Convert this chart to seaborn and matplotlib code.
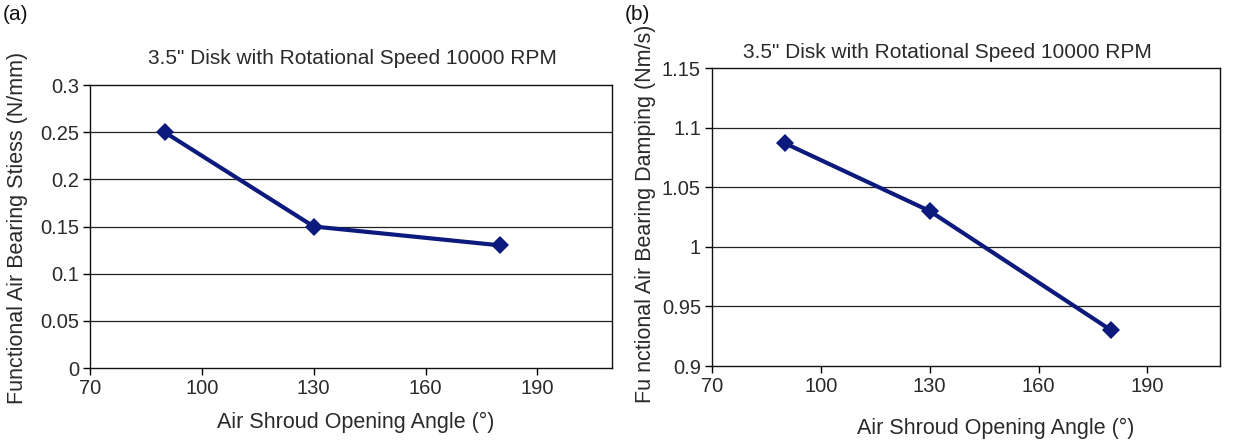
import matplotlib
matplotlib.use("Agg")
import matplotlib.pyplot as plt
import seaborn as sns
import pandas as pd

sns.set_theme(style="white")
plt.rcParams["font.family"] = ["Liberation Sans", "DejaVu Sans"]

# Opening angles (degrees) and measured bearing properties
angles = [90, 130, 180]
stiffness = [0.25, 0.15, 0.13]      # N/mm
damping = [1.087, 1.03, 0.93]       # Nm/s

x_ticks = [70, 100, 130, 160, 190]
stiff_ticks = [0, 0.05, 0.1, 0.15, 0.2, 0.25, 0.3]
stiff_labels = ["0", "0.05", "0.1", "0.15", "0.2", "0.25", "0.3"]
damp_ticks = [0.9, 0.95, 1.0, 1.05, 1.1, 1.15]
damp_labels = ["0.9", "0.95", "1", "1.05", "1.1", "1.15"]

title = '3.5" Disk with Rotational Speed 10000 RPM'
xlabel = "Air Shroud Opening Angle (°)"

line_color = "#0b1a7c"
text_color = "#2a2a2a"
W, H = 1244, 440
fig = plt.figure(figsize=(W / 100, H / 100), dpi=100)


def frac(x0, y0, x1, y1):
    return [x0 / W, 1 - y1 / H, (x1 - x0) / W, (y1 - y0) / H]


ax_a = fig.add_axes(frac(90, 85, 612, 368))
ax_b = fig.add_axes(frac(712, 68, 1220, 366))

df_a = pd.DataFrame({"angle": angles, "value": stiffness})
df_b = pd.DataFrame({"angle": angles, "value": damping})

for ax, df, ticks, labels, ylim in [
    (ax_a, df_a, stiff_ticks, stiff_labels, (0, 0.3)),
    (ax_b, df_b, damp_ticks, damp_labels, (0.9, 1.15)),
]:
    for t in ticks[1:-1]:
        ax.axhline(t, color="#222222", lw=0.9, zorder=1)
    sns.lineplot(data=df, x="angle", y="value", ax=ax, color=line_color,
                 lw=3, marker="D", markersize=9.5, markeredgewidth=0,
                 zorder=3)
    ax.set_xlim(70, 210)
    ax.set_ylim(*ylim)
    ax.set_xticks(x_ticks)
    ax.set_xticklabels([str(v) for v in x_ticks])
    ax.set_yticks(ticks)
    ax.set_yticklabels(labels)
    ax.set_xlabel("")
    ax.set_ylabel("")
    ax.tick_params(axis="both", direction="out", length=5, width=1,
                   color="black", labelsize=14.5, labelcolor=text_color,
                   pad=3, bottom=True, left=True)
    for s in ax.spines.values():
        s.set_color("#111111")
        s.set_linewidth(1.0)

# Panel titles, labels and tags
fig.text(352 / W, 1 - 58 / H, title, ha="center", va="center",
         fontsize=15, color=text_color)
fig.text(947 / W, 1 - 52 / H, title, ha="center", va="center",
         fontsize=15, color=text_color)
fig.text(356 / W, 1 - 422 / H, xlabel, ha="center", va="center",
         fontsize=15.5, color=text_color)
fig.text(996 / W, 1 - 428 / H, xlabel, ha="center", va="center",
         fontsize=15.5, color=text_color)
fig.text(18 / W, 1 - 228 / H, "Functional Air Bearing Stiess (N/mm)",
         ha="center", va="center", rotation=90, fontsize=15.5,
         color=text_color)
fig.text(646 / W, 1 - 214 / H, "Fu nctional Air Bearing Damping (Nm/s)",
         ha="center", va="center", rotation=90, fontsize=15.5,
         color=text_color)
fig.text(16 / W, 1 - 15 / H, "(a)", ha="center", va="center",
         fontsize=15, color="#111111")
fig.text(637 / W, 1 - 15 / H, "(b)", ha="center", va="center",
         fontsize=15, color="#111111")

fig.savefig("out.png", dpi=100, facecolor="white")
